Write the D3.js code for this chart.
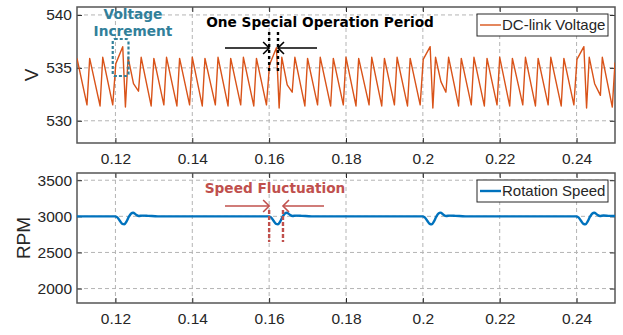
<!DOCTYPE html>
<html>
<head>
<meta charset="utf-8">
<script src="https://cdn.jsdelivr.net/npm/d3@7"></script>
<style>
  body { margin: 0; background: #fff; }
  text { font-family: "Liberation Sans", Arial, sans-serif; }
  text.note { font-family: "DejaVu Sans", Verdana, sans-serif; font-weight: bold; font-size: 13.7px; }
</style>
</head>
<body>
<div id="chart"></div>
<script>
const width = 623;
const height = 335;

// x ticks shared by both panels
const xTicks = [0.12, 0.14, 0.16, 0.18, 0.2, 0.22, 0.24];
const voltTicks = [530, 535, 540];
const speedTicks = [2000, 2500, 3000, 3500];

// DC-link voltage samples (time s, volts)
const voltTime = [
  0.1100, 0.1126, 0.1133, 0.1160, 0.1167, 0.1193,
  0.1201, 0.1219, 0.1226, 0.1233, 0.1247, 0.1260, 0.1267,
  0.1293, 0.1300, 0.1326, 0.1333, 0.1360, 0.1367, 0.1393, 0.1400,
  0.1426, 0.1433, 0.1460, 0.1467, 0.1493, 0.1500, 0.1526, 0.1533,
  0.1560, 0.1567, 0.1593,
  0.1601, 0.1619, 0.1626, 0.1633, 0.1647, 0.1660, 0.1667,
  0.1693, 0.1700, 0.1726, 0.1733, 0.1760, 0.1767, 0.1793, 0.1800,
  0.1826, 0.1833, 0.1860, 0.1867, 0.1893, 0.1900, 0.1926, 0.1933,
  0.1960, 0.1967, 0.1993,
  0.2001, 0.2019, 0.2026, 0.2033, 0.2047, 0.2060, 0.2067,
  0.2093, 0.2100, 0.2126, 0.2133, 0.2160, 0.2167, 0.2193, 0.2200,
  0.2226, 0.2233, 0.2260, 0.2267, 0.2293, 0.2300, 0.2326, 0.2333,
  0.2360, 0.2367, 0.2393,
  0.2401, 0.2419, 0.2426, 0.2433, 0.2447, 0.2462, 0.2467,
  0.2493, 0.2500
];
const voltValue = [
  535.9, 531.5, 535.9, 531.4, 536.0, 531.5,
  535.4, 537.0, 531.3, 536.0, 533.5, 532.8, 536.0,
  531.4, 535.9, 531.5, 536.0, 531.4, 535.9, 531.5, 536.0,
  531.4, 535.9, 531.5, 536.0, 531.4, 535.9, 531.5, 536.0,
  531.4, 535.9, 531.5,
  535.3, 536.9, 531.2, 536.0, 533.4, 532.7, 536.0,
  531.4, 535.9, 531.5, 536.0, 531.4, 535.9, 531.5, 536.0,
  531.4, 535.9, 531.5, 536.0, 531.4, 535.9, 531.5, 536.0,
  531.4, 535.9, 531.5,
  535.8, 537.0, 531.2, 536.0, 533.7, 532.7, 536.0,
  531.4, 535.9, 531.5, 536.0, 531.4, 535.9, 531.5, 536.0,
  531.4, 535.9, 531.5, 536.0, 531.4, 535.9, 531.5, 536.0,
  531.4, 535.9, 531.5,
  535.8, 537.0, 531.2, 536.0, 533.5, 532.4, 536.0,
  531.3, 535.5
];

// rotation speed samples (time s, rpm)
const speedTime = [
  0.1100, 0.1198, 0.1205, 0.1212, 0.1218, 0.1223, 0.1229, 0.1235, 0.1241, 0.1246, 0.1253, 0.1261, 0.1270, 0.1285, 0.1310,
  0.1598, 0.1605, 0.1612, 0.1618, 0.1623, 0.1629, 0.1635, 0.1641, 0.1646, 0.1653, 0.1661, 0.1670, 0.1685, 0.1710,
  0.1998, 0.2005, 0.2012, 0.2018, 0.2023, 0.2029, 0.2035, 0.2041, 0.2046, 0.2053, 0.2061, 0.2070, 0.2085, 0.2110,
  0.2398, 0.2405, 0.2412, 0.2418, 0.2423, 0.2429, 0.2435, 0.2441, 0.2446, 0.2453, 0.2461, 0.2470, 0.2485, 0.2500
];
const speedValue = [
  3000, 3000, 2985, 2935, 2895, 2890, 2930, 2995, 3040, 3050, 3025, 3005, 3010, 3007, 3000,
  3000, 2985, 2935, 2895, 2890, 2930, 2995, 3040, 3050, 3025, 3005, 3010, 3007, 3000,
  3000, 2985, 2935, 2895, 2888, 2930, 2995, 3040, 3052, 3025, 3005, 3010, 3007, 3000,
  3000, 2985, 2935, 2895, 2888, 2930, 2995, 3040, 3050, 3025, 3005, 3012, 3006, 3004
];

const orange = "#D95319";
const blue = "#0072BD";
const teal = "#31809A";
const red = "#C0504D";
const axisColor = "#262626";

const svg = d3.select("#chart").append("svg")
  .attr("width", width)
  .attr("height", height);

const x = d3.scaleLinear().domain([0.11, 0.25]).range([77, 615]);
const yV = d3.scaleLinear().domain([527.9, 540.75]).range([143, 7]);
const yS = d3.scaleLinear().domain([1800, 3600]).range([303, 173]);

function drawPanel(y, ticks, top, bottom, ylabel, labelX) {
  const g = svg.append("g");
  // grid
  g.selectAll(".vgrid").data(xTicks).enter().append("line")
    .attr("x1", d => x(d)).attr("x2", d => x(d))
    .attr("y1", top).attr("y2", bottom)
    .style("stroke", "#b4b4b4").style("stroke-dasharray", "4,3").style("stroke-width", 1);
  g.selectAll(".hgrid").data(ticks).enter().append("line")
    .attr("x1", 77).attr("x2", 615)
    .attr("y1", d => y(d)).attr("y2", d => y(d))
    .style("stroke", "#b4b4b4").style("stroke-dasharray", "4,3").style("stroke-width", 1);

  // axes: ticks inward on all four sides
  g.append("g").attr("transform", `translate(0,${bottom})`)
    .call(d3.axisBottom(x).tickValues(xTicks).tickSizeInner(-5).tickSizeOuter(0).tickPadding(10).tickFormat(d3.format("")))
    .call(a => a.select(".domain").remove());
  g.append("g").attr("transform", `translate(0,${top})`)
    .call(d3.axisTop(x).tickValues(xTicks).tickSizeInner(-5).tickSizeOuter(0).tickFormat(""))
    .call(a => a.select(".domain").remove());
  g.append("g").attr("transform", "translate(77,0)")
    .call(d3.axisLeft(y).tickValues(ticks).tickSizeInner(-5).tickSizeOuter(0).tickPadding(5).tickFormat(d3.format("d")))
    .call(a => a.select(".domain").remove());
  g.append("g").attr("transform", "translate(615,0)")
    .call(d3.axisRight(y).tickValues(ticks).tickSizeInner(-5).tickSizeOuter(0).tickFormat(""))
    .call(a => a.select(".domain").remove());
  g.selectAll(".tick line").style("stroke", axisColor);
  g.selectAll(".tick text").style("font-size", "15.5px").style("fill", axisColor)
    .style("font-family", "'Liberation Sans', Arial, sans-serif");

  g.append("rect")
    .attr("x", 77).attr("y", top)
    .attr("width", 615 - 77).attr("height", bottom - top)
    .style("fill", "none").style("stroke", "#555").style("stroke-width", 1.5);

  g.append("text")
    .attr("transform", `translate(${labelX},${(top + bottom) / 2}) rotate(-90)`)
    .attr("text-anchor", "middle").attr("dy", "0.35em")
    .style("font-size", "19px").style("fill", axisColor)
    .text(ylabel);
  return g;
}

drawPanel(yV, voltTicks, 7, 143, "V", 31);
drawPanel(yS, speedTicks, 173, 303, "RPM", 23);

// clip paths
svg.append("clipPath").attr("id", "clipV").append("rect")
  .attr("x", 77).attr("y", 7).attr("width", 538).attr("height", 136);
svg.append("clipPath").attr("id", "clipS").append("rect")
  .attr("x", 77).attr("y", 173).attr("width", 538).attr("height", 130);

const voltLine = d3.line()
  .x((d, i) => x(voltTime[i]))
  .y(d => yV(d));
svg.append("path")
  .datum(voltValue)
  .attr("clip-path", "url(#clipV)")
  .attr("d", voltLine)
  .style("fill", "none").style("stroke", orange).style("stroke-width", 1.4)
  .style("stroke-linejoin", "round");

const speedLine = d3.line()
  .x((d, i) => x(speedTime[i]))
  .y(d => yS(d))
  .curve(d3.curveMonotoneX);
svg.append("path")
  .datum(speedValue)
  .attr("clip-path", "url(#clipS)")
  .attr("d", speedLine)
  .style("fill", "none").style("stroke", blue).style("stroke-width", 2.4);

// legends
function legend(y0, label, color, h) {
  svg.append("rect")
    .attr("x", 477).attr("y", y0).attr("width", 131).attr("height", h)
    .style("fill", "#fff").style("stroke", axisColor).style("stroke-width", 1);
  svg.append("line")
    .attr("x1", 480).attr("x2", 501)
    .attr("y1", y0 + h / 2).attr("y2", y0 + h / 2)
    .style("stroke", color).style("stroke-width", color === blue ? 2.4 : 1.4);
  svg.append("text")
    .attr("x", 502).attr("y", y0 + h / 2).attr("dy", "0.36em")
    .style("font-size", "15px").style("fill", axisColor)
    .text(label);
}
legend(14, "DC-link Voltage", orange, 22);
legend(180, "Rotation Speed", blue, 22);

// annotation: voltage increment
svg.append("text").attr("class", "note").attr("x", 133).attr("y", 19).attr("text-anchor", "middle")
  .style("fill", teal)
  .text("Voltage");
svg.append("text").attr("class", "note").attr("x", 133).attr("y", 35.5).attr("text-anchor", "middle")
  .style("fill", teal)
  .text("Increment");
svg.append("rect")
  .attr("x", x(0.1193)).attr("y", 39).attr("width", x(0.1234) - x(0.1193)).attr("height", 37)
  .attr("rx", 2)
  .style("fill", "none").style("stroke", teal).style("stroke-width", 2.2).style("stroke-dasharray", "3,2");

// annotation: one special operation period
svg.append("text").attr("class", "note").attr("x", 320).attr("y", 27).attr("text-anchor", "middle")
  .style("fill", "#000")
  .text("One Special Operation Period");

function arrowPair(t0, t1, yArrow, yTop, yBot, color, dash, leftStart, rightEnd) {
  const x0 = x(t0), x1 = x(t1);
  [x0, x1].forEach(xx => {
    svg.append("line")
      .attr("x1", xx).attr("x2", xx).attr("y1", yTop).attr("y2", yBot)
      .style("stroke", color).style("stroke-width", 2.4).style("stroke-dasharray", dash);
  });
  svg.append("line").attr("x1", leftStart).attr("x2", x0).attr("y1", yArrow).attr("y2", yArrow)
    .style("stroke", color).style("stroke-width", 1.6);
  svg.append("line").attr("x1", x1).attr("x2", rightEnd).attr("y1", yArrow).attr("y2", yArrow)
    .style("stroke", color).style("stroke-width", 1.6);
  svg.append("path")
    .attr("d", `M${x0 - 6},${yArrow - 6}L${x0},${yArrow}L${x0 - 6},${yArrow + 6}`)
    .style("fill", "none").style("stroke", color).style("stroke-width", 1.6);
  svg.append("path")
    .attr("d", `M${x1 + 6},${yArrow - 6}L${x1},${yArrow}L${x1 + 6},${yArrow + 6}`)
    .style("fill", "none").style("stroke", color).style("stroke-width", 1.6);
}
arrowPair(0.16, 0.1623, 48, 32, 72, "#000", "3,3", 225, 317);

// annotation: speed fluctuation
svg.append("text").attr("class", "note").attr("x", 275).attr("y", 193).attr("text-anchor", "middle")
  .style("fill", red)
  .text("Speed Fluctuation");
arrowPair(0.16, 0.1636, 206, 210, 242, red, "4,2", 225, 324);
</script>
</body>
</html>
